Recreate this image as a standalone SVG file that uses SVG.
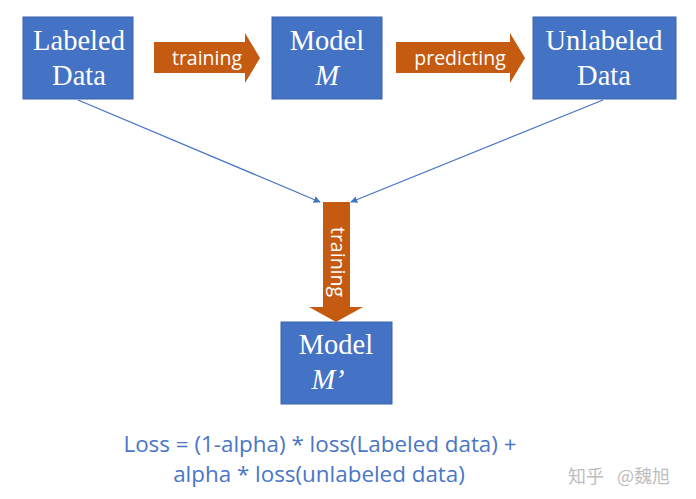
<svg xmlns="http://www.w3.org/2000/svg" width="696" height="499" viewBox="0 0 696 499">
<defs>
<style>
.box{fill:#4472C4;stroke:#3A62AA;stroke-width:1}
.bt{font-family:"Liberation Serif","Times New Roman",serif;font-size:28.5px;fill:#fff;text-anchor:middle}
.it{font-style:italic}
.arr{fill:#C55A11}
.at{font-family:"Open Sans","Noto Sans",sans-serif;font-size:19.5px;fill:#fff;text-anchor:middle}
.con{stroke:#4472C4;stroke-width:1.2;fill:none}
.loss{font-family:"Open Sans","Noto Sans",sans-serif;font-size:22.4px;fill:#4A76C6;text-anchor:middle}
</style>
<marker id="ah" viewBox="0 0 10 10" refX="9" refY="5" markerWidth="7" markerHeight="7" orient="auto" markerUnits="userSpaceOnUse">
<path d="M0,0 L10,5 L0,10 Z" fill="#4472C4"/>
</marker>
</defs>
<rect width="696" height="499" fill="#fff"/>
<g id="connectors">
<line class="con" x1="78" y1="100" x2="320" y2="202" marker-end="url(#ah)"/>
<line class="con" x1="603" y1="100" x2="351" y2="202" marker-end="url(#ah)"/>
</g>
<g id="arrow-training">
<path class="arr" d="M154,42 H245 V33 L260,58 L245,83 V73 H154 Z"/>
<text class="at" x="207" y="65">training</text>
</g>
<g id="arrow-predicting">
<path class="arr" d="M396,42 H510 V33 L525,58 L510,83 V73 H396 Z"/>
<text class="at" x="460" y="65">predicting</text>
</g>
<g id="arrow-training2">
<path class="arr" d="M323,202 H350 V307 H363 L336,322 L309,307 H323 Z"/>
<text class="at" transform="translate(330.5,262) rotate(90)" x="0" y="0">training</text>
</g>
<g id="labeled-data">
<rect class="box" x="23" y="17" width="110" height="82"/>
<text class="bt" x="79" y="50">Labeled</text>
<text class="bt" x="79" y="85">Data</text>
</g>
<g id="model-m">
<rect class="box" x="272" y="17" width="110" height="82"/>
<text class="bt" x="327" y="50">Model</text>
<text class="bt it" x="327" y="85">M</text>
</g>
<g id="unlabeled-data">
<rect class="box" x="533" y="17" width="143" height="82"/>
<text class="bt" x="604" y="50">Unlabeled</text>
<text class="bt" x="604" y="85">Data</text>
</g>
<g id="model-m2">
<rect class="box" x="281" y="322" width="111" height="82"/>
<text class="bt" x="336" y="354">Model</text>
<text class="bt it" x="328" y="389">M’</text>
</g>
<text class="loss" x="320" y="452">Loss = (1-alpha) * loss(Labeled data) +</text>
<text class="loss" x="319" y="482">alpha * loss(unlabeled data)</text>
<text y="483" font-family="'Noto Sans CJK SC',sans-serif" font-size="18" fill="#BDBDBD"><tspan x="568">知乎</tspan><tspan x="617">@魏旭</tspan></text>
</svg>
